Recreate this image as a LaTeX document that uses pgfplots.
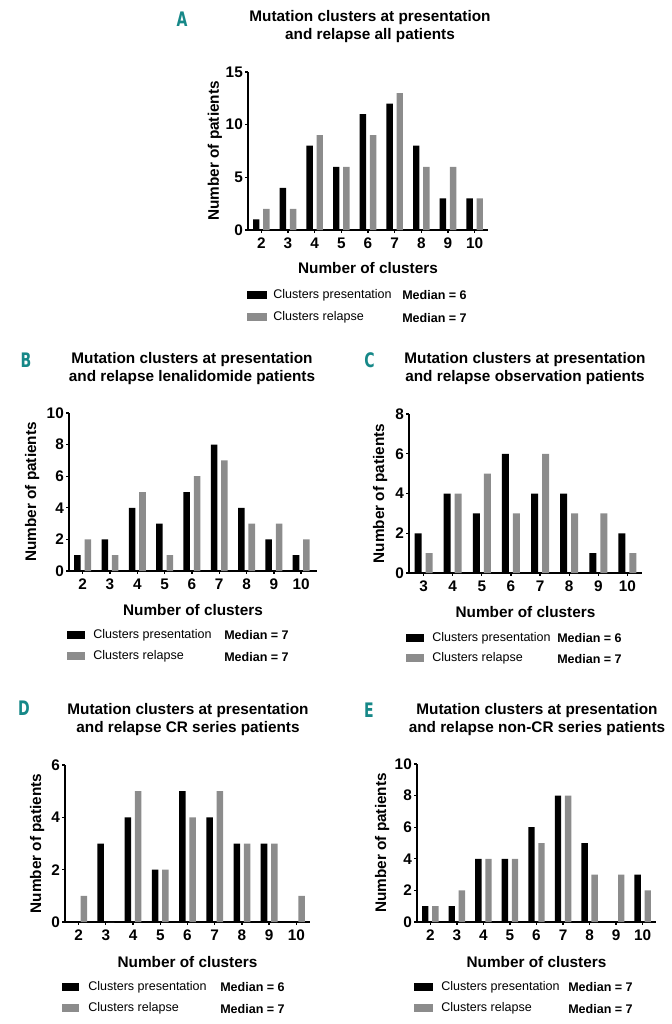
\documentclass[border=0pt]{standalone}
\usepackage{fontspec}
\setmainfont{Liberation Sans}
\newfontfamily\condfont{DejaVu Sans Condensed}
\usepackage{pgfplots}
\pgfplotsset{compat=1.18}
\definecolor{relgrey}{RGB}{140,140,140}
\definecolor{teal}{RGB}{22,136,136}
\newcommand{\ticfont}{\bfseries\fontsize{11.5}{13}\selectfont}
\newcommand{\labfont}{\bfseries\fontsize{11.5}{13.5}\selectfont}
\newcommand{\legfont}{\fontsize{9.4}{11}\selectfont}
\pgfplotsset{panel/.style={
  scale only axis, anchor=south west, ybar,
  axis lines=left, axis line style={-, line width=1pt},
  xmin=1.5, xmax=10.5, ymin=0,
  xtick={2,...,10}, tick style={line width=1pt, black}, tick align=outside,
  major tick length=2.2pt,
  /pgf/number format/assume math mode=true,
  ticklabel style={font=\ticfont},
  yticklabel style={inner xsep=1.5pt},
  xlabel={Number of clusters}, ylabel={Number of patients},
  label style={font=\labfont},
  bar width=0.24, enlargelimits=false, clip=false,
}}
\newcommand{\pres}{\addplot[fill=black, draw=none, bar shift=-0.19]}
\newcommand{\rel}{\addplot[fill=relgrey, draw=none, bar shift=0.19]}
\begin{document}
\begin{tikzpicture}
\useasboundingbox (0,0) rectangle ({671*0.75pt},{-1024*0.75pt});
% ---------- A
\begin{axis}[panel, at={({248*0.75pt},{-230*0.75pt})}, width=180pt, height=118.5pt,
  ymax=15, ytick={0,5,10,15},
  ylabel style={at={(axis description cs:-0.1375,0.5)}, anchor=center},
  xlabel style={at={(axis description cs:0.5,-0.241)}, anchor=center}]
\pres coordinates {(2,1) (3,4) (4,8) (5,6) (6,11) (7,12) (8,8) (9,3) (10,3)};
\rel coordinates {(2,2) (3,2) (4,9) (5,6) (6,9) (7,13) (8,6) (9,6) (10,3)};
\end{axis}
% ---------- B
\begin{axis}[panel, at={({69*0.75pt},{-571*0.75pt})}, width=186pt, height=118.5pt,
  xmax=10.58, ymax=10, ytick={0,2,...,10},
  ylabel style={at={(axis description cs:-0.149,0.5)}, anchor=center},
  xlabel style={at={(axis description cs:0.5,-0.247)}, anchor=center}]
\pres coordinates {(2,1) (3,2) (4,4) (5,3) (6,5) (7,8) (8,4) (9,2) (10,1)};
\rel coordinates {(2,2) (3,1) (4,5) (5,1) (6,6) (7,7) (8,3) (9,3) (10,2)};
\end{axis}
% ---------- C
\begin{axis}[panel, at={({409*0.75pt},{-573*0.75pt})}, width=174.75pt, height=119.25pt,
  xmin=2.5, xtick={3,...,10}, ymax=8, ytick={0,2,...,8},
  ylabel style={at={(axis description cs:-0.124,0.5)}, anchor=center},
  xlabel style={at={(axis description cs:0.5,-0.245)}, anchor=center}]
\pres coordinates {(3,2) (4,4) (5,3) (6,6) (7,4) (8,4) (9,1) (10,2)};
\rel coordinates {(3,1) (4,4) (5,5) (6,3) (7,6) (8,3) (9,3) (10,1)};
\end{axis}
% ---------- D
\begin{axis}[panel, at={({65*0.75pt},{-922*0.75pt})}, width=183.75pt, height=117.75pt,
  ymax=6, ytick={0,2,4,6},
  ylabel style={at={(axis description cs:-0.114,0.5)}, anchor=center},
  xlabel style={at={(axis description cs:0.5,-0.255)}, anchor=center}]
\pres coordinates {(2,0) (3,3) (4,4) (5,2) (6,5) (7,4) (8,3) (9,3) (10,0)};
\rel coordinates {(2,1) (3,0) (4,5) (5,2) (6,4) (7,5) (8,3) (9,3) (10,1)};
\end{axis}
% ---------- E
\begin{axis}[panel, at={({417*0.75pt},{-922*0.75pt})}, width=179.25pt, height=118.5pt,
  ymax=10, ytick={0,2,...,10},
  ylabel style={at={(axis description cs:-0.146,0.5)}, anchor=center},
  xlabel style={at={(axis description cs:0.5,-0.253)}, anchor=center}]
\pres coordinates {(2,1) (3,1) (4,4) (5,4) (6,6) (7,8) (8,5) (9,0) (10,3)};
\rel coordinates {(2,1) (3,2) (4,4) (5,4) (6,5) (7,8) (8,3) (9,3) (10,2)};
\end{axis}
% ---------- annotations (pixel coordinates)
\begin{scope}[x=0.75pt, y=-0.75pt]
\tikzset{ttl/.style={align=center, font=\labfont, inner sep=0pt},
  let/.style={font=\condfont\bfseries\fontsize{15}{16}\selectfont, text=teal, inner sep=0pt},
  lt/.style={anchor=west, font=\legfont, inner sep=0pt},
  lm/.style={anchor=west, font=\legfont\bfseries, inner sep=0pt}}
\node[let] at (182,19) {\scalebox{0.78}[1]{A}};
\node[let] at (26,360) {\scalebox{0.78}[1]{B}};
\node[let] at (369.5,360) {\scalebox{0.78}[1]{C}};
\node[let] at (24,708.5) {\scalebox{0.78}[1]{D}};
\node[let] at (369,710) {\scalebox{0.78}[1]{E}};
\node[ttl] at (370,26.5) {Mutation clusters at presentation\\and relapse all patients};
\node[ttl] at (192,369) {Mutation clusters at presentation\\and relapse lenalidomide patients};
\node[ttl] at (525,369) {Mutation clusters at presentation\\and relapse observation patients};
\node[ttl] at (188,719.5) {Mutation clusters at presentation\\and relapse CR series patients};
\node[ttl] at (537,719.5) {Mutation clusters at presentation\\and relapse non-CR series patients};
% legends
\foreach \sx/\sw/\tx/\mx/\ra/\rb/\ma/\mb in {247/20/273/402/295/317/6/7, 67/18/93/224/635/656/7/7, 406/18/432/557/638/658/6/7, 62/17/88/220/987/1008/6/7, 414/19/441/568/987/1008/7/7}{
  \fill[black] (\sx,\ra-3.7) rectangle ++(\sw,7.4);
  \fill[relgrey] (\sx,\rb-3.7) rectangle ++(\sw,7.4);
  \node[lt] at (\tx,\ra) {Clusters presentation};
  \node[lt] at (\tx,\rb) {Clusters relapse};
  \node[lm] at (\mx,\ra) {Median = \ma};
  \node[lm] at (\mx,\rb+1) {Median = \mb};
}
\end{scope}
\end{tikzpicture}
\end{document}
